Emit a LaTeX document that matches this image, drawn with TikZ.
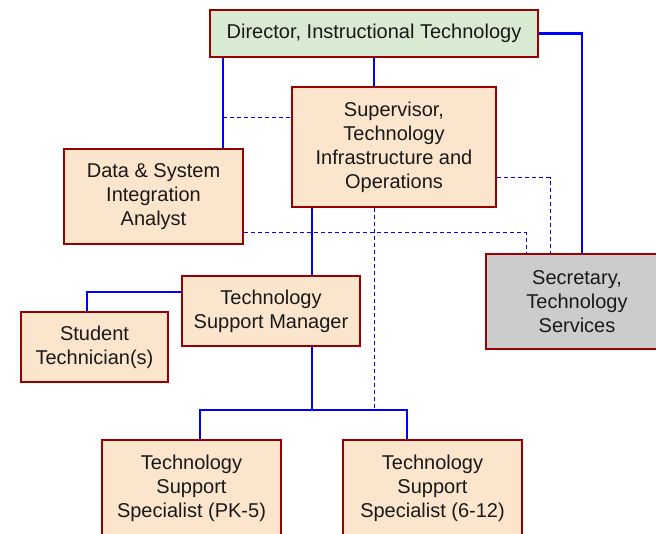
\documentclass[tikz,border=0pt]{standalone}
\usepackage{fontspec}
\setmainfont{Liberation Sans}
\usepackage{tikz}
\usepackage{xcolor}
\usetikzlibrary{positioning}

\definecolor{boxred}{HTML}{990000}
\definecolor{peach}{HTML}{FCE5CD}
\definecolor{palegreen}{HTML}{D9EAD3}
\definecolor{lightgray}{HTML}{CCCCCC}
\definecolor{linkblue}{HTML}{0000FF}

\begin{document}
\begin{tikzpicture}[
    x=1pt, y=-1pt,
    every node/.style={font=\fontsize{20}{24}\selectfont, text=black!90},
    box/.style={draw=boxred, line width=2.2pt, fill=peach, align=center, inner sep=0pt},
    link/.style={draw=linkblue, line width=2.4pt},
    dotlink/.style={draw=linkblue, line width=1pt, dash pattern=on 4pt off 3pt}
]
\clip (0,0) rectangle (656,534);

% Boxes
\node[box, fill=palegreen, minimum width=328pt, minimum height=47pt] (dir) at (374,33.5) {Director, Instructional Technology};
\node[box, minimum width=204pt, minimum height=120pt] (sup) at (394,147) {Supervisor,\\Technology\\Infrastructure and\\Operations};
\node[box, minimum width=179pt, minimum height=95pt] (data) at (153.5,196.5) {Data \& System\\Integration\\Analyst};
\node[box, minimum width=178pt, minimum height=70pt] (mgr) at (271,311) {Technology\\Support Manager};
\node[box, minimum width=147pt, minimum height=70pt] (stud) at (94.5,347) {Student\\Technician(s)};
\node[box, fill=lightgray, minimum width=182pt, minimum height=95pt] (sec) at (577,301.5) {Secretary,\\Technology\\Services};
\node[box, minimum width=179pt, minimum height=96pt] (pk) at (191.5,488) {Technology\\Support\\Specialist (PK-5)};
\node[box, minimum width=179pt, minimum height=96pt] (hs) at (432.5,488) {Technology\\Support\\Specialist (6-12)};

% Helper points
\coordinate (xdata) at (223,0);
\coordinate (xsec) at (582,0);
\coordinate (xsupl) at (312,0);
\coordinate (xsupr) at (374,0);
\coordinate (xdash1) at (526,0);
\coordinate (xdash2) at (550,0);
\coordinate (xstud) at (87,0);
\coordinate (xpk) at (200,0);
\coordinate (xhs) at (407,0);
\coordinate (bus) at (0,410);
\coordinate (j1) at (223,118);

% Solid reporting lines
\draw[link] (dir.east) -| (sec.north -| xsec);
\draw[link] (dir.south -| xdata) -- (data.north -| xdata);
\draw[link] (dir.south) -- (dir.south |- sup.north);
\draw[link] (sup.south -| xsupl) -- (mgr.north -| xsupl);
\draw[link] (mgr.west |- 0,292) -| (stud.north -| xstud);
\draw[link] (mgr.south -| xsupl) -- (bus -| xsupl);
\draw[link] (pk.north -| xpk) |- (bus -| xsupl) -| (hs.north -| xhs);

% Dotted lines
\draw[dotlink] (j1) -- (sup.west |- j1);
\draw[dotlink] (sup.east |- 0,178) -| (sec.north -| xdash2);
\draw[dotlink] (data.east |- 0,233) -| (sec.north -| xdash1);
\draw[dotlink] (sup.south -| xsupr) -- (0,409 -| xsupr);

\end{tikzpicture}
\end{document}
